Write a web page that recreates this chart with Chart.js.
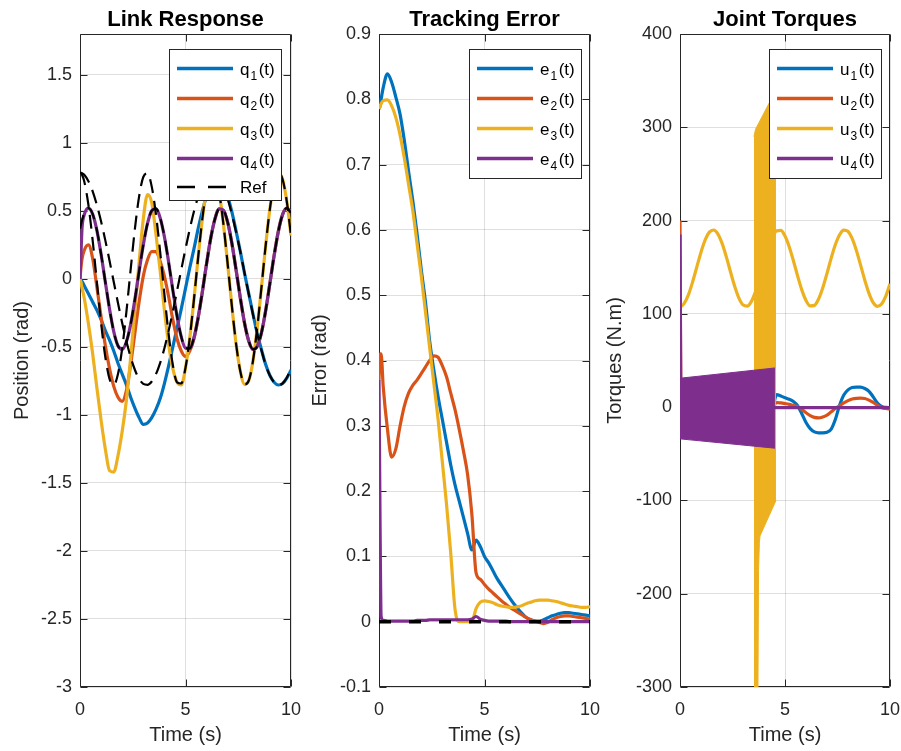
<!DOCTYPE html>
<html>
<head>
<meta charset="utf-8">
<script src="https://cdn.jsdelivr.net/npm/chart.js@4.4.1/dist/chart.umd.min.js"></script>
<style>
  html, body { margin: 0; padding: 0; background: #fff; }
  #wrap { position: relative; width: 901px; height: 751px; overflow: hidden; background: #fff; }
  #wrap canvas { position: absolute; top: 0; }
</style>
</head>
<body>
<div id="wrap">
  <canvas id="link" width="301" height="751" style="left:0px"></canvas>
  <canvas id="err" width="301" height="751" style="left:300px"></canvas>
  <canvas id="torque" width="301" height="751" style="left:600px"></canvas>
</div>
<script>
// ---- sample times (s) ----
const time = [0,0.05,0.1,0.2,0.4,0.6,0.8,1,1.2,1.4,1.6,1.8,2,2.2,2.4,2.6,2.8,3,3.2,3.4,3.6,3.8,4,4.2,4.4,4.6,4.8,5,5.2,5.4,5.6,5.8,6,6.2,6.4,6.6,6.8,7,7.2,7.4,7.6,7.8,8,8.2,8.4,8.6,8.8,9,9.2,9.4,9.6,9.8,10];

// ---- link positions (rad) ----
const q1 = [0,-0.01,-0.02, -0.05,-0.11,-0.17,-0.23,-0.30,-0.38,-0.45,-0.53,-0.62,-0.70, -0.78,-0.87,-0.95,-1.02,-1.07,-1.06,-1.02,-0.96,-0.88,-0.77, -0.64,-0.50,-0.36,-0.22,-0.07,0.08,0.22,0.37,0.50,0.61, 0.70,0.75,0.76,0.71,0.61,0.49,0.35,0.20,0.04,-0.11, -0.26,-0.40,-0.52,-0.63,-0.71,-0.76,-0.78,-0.77,-0.73,-0.67];
const q2 = [0,0.09,0.15, 0.21,0.25,0.15,-0.06,-0.28,-0.49,-0.66,-0.79,-0.87,-0.90, -0.82,-0.63,-0.40,-0.17,0.02,0.14,0.20,0.20,0.13,0.02, -0.13,-0.30,-0.44,-0.53,-0.57,-0.53,-0.44,-0.285,-0.094,0.113, 0.302,0.443,0.514,0.504,0.415,0.260,0.063,-0.142,-0.327,-0.458, -0.518,-0.495,-0.396,-0.233,-0.033,0.171,0.349,0.472,0.520,0.486];
const q3 = [0,-0.03,-0.07, -0.14,-0.33,-0.55,-0.80,-1.04,-1.25,-1.41,-1.42,-1.30,-1.12, -0.89,-0.58,-0.23,0.12,0.44,0.62,0.56,0.33,0.06,-0.23, -0.48,-0.66,-0.76,-0.78,-0.654,-0.437,-0.152,0.158,0.444,0.658, 0.769,0.759,0.629,0.399,0.107,-0.203,-0.481,-0.681,-0.775,-0.747, -0.601,-0.360,-0.062,0.246,0.515,0.704,0.779,0.732,0.570,0.318];
const q4 = [0,0.2,0.38, 0.47,0.52,0.476,0.357,0.181,-0.023,-0.222,-0.388,-0.492,-0.518, -0.462,-0.334,-0.152,0.053,0.250,0.408,0.501,0.516,0.448,0.310, 0.123,-0.083,-0.276,-0.426,-0.509,-0.511,-0.433,-0.285,-0.094,0.113, 0.302,0.443,0.514,0.504,0.415,0.260,0.063,-0.142,-0.327,-0.458, -0.518,-0.495,-0.396,-0.233,-0.033,0.171,0.349,0.472,0.520,0.486];

// ---- reference trajectories (rad) ----
const ref1 = [0.78,0.779,0.776, 0.765,0.718,0.644,0.543,0.421,0.283,0.133,-0.023,-0.177,-0.325, -0.459,-0.575,-0.668,-0.735,-0.772,-0.779,-0.754,-0.700,-0.617,-0.510, -0.382,-0.240,-0.087,0.068,0.221,0.365,0.495,0.605,0.691,0.749, 0.778,0.775,0.742,0.678,0.588,0.474,0.342,0.197,0.042,-0.113, -0.263,-0.405,-0.524,-0.633,-0.711,-0.760,-0.780,-0.768,-0.727,-0.654];
const ref3 = [0.78,0.776,0.764, 0.718,0.543,0.283,-0.023,-0.325,-0.575,-0.735,-0.779,-0.700,-0.510, -0.240,0.068,0.365,0.605,0.749,0.775,0.678,0.474,0.197,-0.113, -0.405,-0.633,-0.760,-0.768,-0.654,-0.437,-0.152,0.158,0.444,0.658, 0.769,0.759,0.629,0.399,0.107,-0.203,-0.481,-0.681,-0.775,-0.747, -0.601,-0.360,-0.062,0.246,0.515,0.704,0.779,0.732,0.570,0.318];
const ref24 = [0.368,0.402,0.433, 0.482,0.520,0.476,0.357,0.181,-0.023,-0.222,-0.388,-0.492,-0.518, -0.462,-0.334,-0.152,0.053,0.250,0.408,0.501,0.516,0.448,0.310, 0.123,-0.083,-0.276,-0.426,-0.509,-0.511,-0.433,-0.285,-0.094,0.113, 0.302,0.443,0.514,0.504,0.415,0.260,0.063,-0.142,-0.327,-0.458, -0.518,-0.495,-0.396,-0.233,-0.033,0.171,0.349,0.472,0.520,0.486];

// ---- tracking errors (rad) ----
const e1 = [0.785,0.79,0.80, 0.818,0.839,0.826,0.803,0.777,0.737,0.69,0.645,0.595,0.54, 0.49,0.43,0.385,0.345,0.31,0.275,0.24,0.21,0.185,0.16, 0.135,0.11,0.125,0.115,0.10,0.09,0.078,0.066,0.056,0.046, 0.036,0.027,0.019,0.012,0.006,0.003,0.001,0.001,0.003,0.006, 0.009,0.011,0.013,0.014,0.014,0.013,0.012,0.011,0.010,0.009];
const e2 = [0.37,0.41,0.41, 0.36,0.295,0.252,0.265,0.30,0.33,0.35,0.362,0.37,0.38, 0.39,0.40,0.407,0.405,0.392,0.375,0.35,0.325,0.295,0.262, 0.225,0.165,0.075,0.065,0.057,0.05,0.044,0.038,0.032,0.027, 0.022,0.018,0.014,0.010,0.006,0.003,0.001,-0.001,-0.003,-0.001, 0.003,0.006,0.008,0.009,0.009,0.008,0.007,0.006,0.005,0.004];
const e3 = [0.785,0.79,0.793, 0.798,0.799,0.79,0.772,0.745,0.71,0.67,0.63,0.58,0.53, 0.475,0.42,0.365,0.31,0.245,0.18,0.105,0.02,0,0, 0,0,0.02,0.03,0.032,0.031,0.029,0.026,0.024,0.023, 0.022,0.022,0.023,0.025,0.028,0.030,0.032,0.033,0.033,0.033, 0.032,0.031,0.029,0.027,0.025,0.024,0.023,0.022,0.022,0.023];
const e4 = [0.37,0.15,0.008, 0.002,0.001,0.001,0.001,0.001,0.001,0.001,0.001,0.002,0.002, 0.002,0.003,0.003,0.003,0.003,0.003,0.003,0.003,0.003,0.003, 0.003,0.004,0.008,0.004,0.002,0.001,0.001,0.001,0.001,0.001, 0,0,0,0,0,0,0,0,0,0, 0,0,0,0,0,0,0,0,0,0];
const errZeroT = [0, 10];
const errZero = [0, 0];

// ---- joint torques (N.m) ----
const u1 = [0,0,0, 0,0,0,0,0,0,0,0,0,0, 0,0,0,0,0,0,0,0,0,0, 0,0,13.5,12,10,8.5,6,1.5,-7,-16.5, -23,-26.5,-27.5,-27.5,-27,-23.5,-13,2,13,18.5, 21,21.5,21.5,20,17,11,4.5,0.8,-0.2,-0.4];
const u2 = [200,0,0, 0,0,0,0,0,0,0,0,0,0, 0,0,0,0,0,0,0,0,0,0, 0,0,5,4.5,3.8,3,1.8,0.5,-2.5,-6, -9,-11,-11.5,-10.5,-8.5,-5,-1.5,1.5,4.5,7, 8.7,9.5,9.6,9.2,7.5,5,2,-0.3,-1.5,-2];
const u3 = [108,108.2,108.8, 111.2,120.4,134.2,150.2,166.1,179.2,187.6,189.9,185.8,175.8, 161.6,145.4,129.8,117.2,109.6,108.3,113.4,124.1,138,155, 170,182,189,189.4,183.4,172,157,140.7,125.7,114.4, 108.6,109.1,116,128,143.4,159.7,174.3,184.8,189.8,188.3, 180.6,167.9,152.2,136,122,112,108,110.5,119,132.3];
const u4 = [185,0,0, 0,0,0,0,0,0,0,0,0,0, 0,0,0,0,0,0,0,0,0,0, 0,0,-0.5,-0.5,-0.5,-0.5,-0.5,-0.5,-0.5,-0.5, -0.5,-0.5,-0.5,-0.5,-0.5,-0.5,-0.5,-0.5,-0.5,-0.5, -0.5,-0.5,-0.5,-0.5,-0.5,-0.5,-0.5,-0.5,-0.5,-0.5];
// chattering envelopes (upper / lower swing of the fast oscillation)
const u3SwingT = [3.52, 3.60, 4.57];
const u3SwingHi = [290, 298, 340];
const u3SwingLoT = [3.52, 3.71, 3.74, 3.78, 3.81, 4.57];
const u3SwingLo = [-310, -310, -175, -145, -138, -100];
const u4SwingT = [0.0, 4.52];
const u4SwingHi = [31, 42];
const u4SwingLo = [-34, -44];

// ---- axis ticks ----
const timeTicks = [0, 5, 10];
const timeTickLabels = ['0', '5', '10'];
const linkTicks = [-3, -2.5, -2, -1.5, -1, -0.5, 0, 0.5, 1, 1.5];
const linkTickLabels = ['-3', '-2.5', '-2', '-1.5', '-1', '-0.5', '0', '0.5', '1', '1.5'];
const errTicks = [-0.1, 0, 0.1, 0.2, 0.3, 0.4, 0.5, 0.6, 0.7, 0.8, 0.9];
const errTickLabels = ['-0.1', '0', '0.1', '0.2', '0.3', '0.4', '0.5', '0.6', '0.7', '0.8', '0.9'];
const torqueTicks = [-300, -200, -100, 0, 100, 200, 300, 400];
const torqueTickLabels = ['-300', '-200', '-100', '0', '100', '200', '300', '400'];

// ---- legend labels ----
const linkLegend = ['q_1(t)', 'q_2(t)', 'q_3(t)', 'q_4(t)', 'Ref'];
const errLegend = ['e_1(t)', 'e_2(t)', 'e_3(t)', 'e_4(t)'];
const torqueLegend = ['u_1(t)', 'u_2(t)', 'u_3(t)', 'u_4(t)'];

// ---------------------------------------------------------------
const FONT = "'Liberation Sans', Arial, Helvetica, sans-serif";
const AXIS_COLOR = '#262626';
const GRID_COLOR = 'rgba(38,38,38,0.15)';
const BLUE = '#0072BD', ORANGE = '#D95319', YELLOW = '#EDB120', PURPLE = '#7E2F8E';
const LW = 3.2;

Chart.defaults.font.family = FONT;

const pts = (xs, ys) => xs.map((x, i) => ({ x: x, y: ys[i] }));

function curve(label, xs, ys, color, extra) {
  return Object.assign({
    label: label, data: pts(xs, ys), borderColor: color, backgroundColor: color,
    borderWidth: LW, pointRadius: 0, cubicInterpolationMode: 'monotone', fill: false
  }, extra || {});
}

function envelope(label, xs, ys, color, fillPrev) {
  return {
    label: label, data: pts(xs, ys), borderColor: color, backgroundColor: color,
    borderWidth: 1, pointRadius: 0, tension: 0, fill: fillPrev ? '-1' : false
  };
}

// Text with a single-character TeX style subscript, e.g. q_1(t)
function drawTexLabel(ctx, s, x, base) {
  const m = s.match(/^([^_]*)_(\w)(.*)$/);
  ctx.fillStyle = '#000';
  ctx.textAlign = 'left';
  ctx.textBaseline = 'alphabetic';
  ctx.font = '17px ' + FONT;
  if (!m) { ctx.fillText(s, x, base); return; }
  ctx.fillText(m[1], x, base);
  x += ctx.measureText(m[1]).width + 1;
  ctx.font = '12px ' + FONT;
  ctx.fillText(m[2], x, base + 5);
  x += ctx.measureText(m[2]).width + 1.5;
  ctx.font = '17px ' + FONT;
  ctx.fillText(m[3], x, base);
}

// Axes box with inward tick marks (drawn beneath the data), title and legend on top
function axesDecor(spec) {
  return {
    id: 'axesDecor',
    beforeDatasetsDraw(chart) {
      const { ctx, chartArea: a, scales } = chart;
      const L = Math.round(a.left) + 0.5, R = Math.round(a.right) - 0.5;
      const T = Math.round(a.top) + 0.5, B = Math.round(a.bottom) - 0.5;
      const tl = 7;
      ctx.save();
      ctx.strokeStyle = AXIS_COLOR;
      ctx.lineWidth = 1;
      ctx.setLineDash([]);
      ctx.beginPath();
      ctx.rect(L, T, R - L, B - T);
      scales.y.ticks.forEach(t => {
        const y = Math.round(scales.y.getPixelForValue(t.value)) + 0.5;
        ctx.moveTo(L, y); ctx.lineTo(L + tl, y);
        ctx.moveTo(R, y); ctx.lineTo(R - tl, y);
      });
      scales.x.ticks.forEach(t => {
        const x = Math.round(scales.x.getPixelForValue(t.value)) + 0.5;
        ctx.moveTo(x, B); ctx.lineTo(x, B - tl);
        ctx.moveTo(x, T); ctx.lineTo(x, T + tl);
      });
      ctx.stroke();
      ctx.restore();
    },
    afterDraw(chart) {
      const { ctx, chartArea: a } = chart;
      ctx.save();
      ctx.fillStyle = '#000';
      ctx.font = 'bold 22px ' + FONT;
      ctx.textAlign = 'center';
      ctx.textBaseline = 'alphabetic';
      ctx.fillText(spec.title, (a.left + a.right) / 2, 26);
      const b = spec.legendBox;
      ctx.fillStyle = '#fff';
      ctx.fillRect(b.x0, b.y0, b.x1 - b.x0, b.y1 - b.y0);
      ctx.strokeStyle = AXIS_COLOR;
      ctx.lineWidth = 1;
      ctx.strokeRect(b.x0, b.y0, b.x1 - b.x0, b.y1 - b.y0);
      spec.legendItems.forEach((it, i) => {
        const y = b.rows[i];
        ctx.strokeStyle = it.color;
        ctx.lineWidth = it.width;
        ctx.setLineDash(it.dash || []);
        ctx.beginPath();
        ctx.moveTo(b.lx0, y); ctx.lineTo(b.lx1, y);
        ctx.stroke();
        ctx.setLineDash([]);
        drawTexLabel(ctx, it.label, b.tx, y + 6);
      });
      ctx.restore();
    }
  };
}

function panel(canvasId, spec) {
  const datasets = spec.datasets.map((d, i) => Object.assign(d, { order: -i }));
  const findLabel = (vals, labs, v) => labs[vals.findIndex(t => Math.abs(t - v) < 1e-9)];
  return new Chart(document.getElementById(canvasId), {
    type: 'line',
    data: { datasets: datasets },
    options: {
      responsive: false, animation: false, events: [], devicePixelRatio: 1,
      layout: { padding: { left: 0, right: spec.padRight, top: 34, bottom: 0 } },
      plugins: { legend: { display: false }, tooltip: { enabled: false }, title: { display: false } },
      scales: {
        x: {
          type: 'linear', min: 0, max: 10,
          afterBuildTicks: s => { s.ticks = timeTicks.map(v => ({ value: v })); },
          afterFit: s => { s.height = 64; s.paddingLeft = 0; s.paddingRight = 0; },
          grid: { color: GRID_COLOR, drawTicks: false, lineWidth: 1 },
          border: { display: false },
          ticks: {
            autoSkip: false, maxRotation: 0, padding: 12, color: AXIS_COLOR,
            font: { family: FONT, size: 18 },
            callback: v => findLabel(timeTicks, timeTickLabels, v)
          },
          title: { display: true, text: 'Time (s)', color: AXIS_COLOR, font: { family: FONT, size: 20 }, padding: { top: 0, bottom: 4 } }
        },
        y: {
          type: 'linear', min: spec.yMin, max: spec.yMax,
          afterBuildTicks: s => { s.ticks = spec.yTicks.map(v => ({ value: v })); },
          afterFit: s => { s.width = spec.yWidth; s.paddingTop = 0; s.paddingBottom = 0; },
          grid: { color: GRID_COLOR, drawTicks: false, lineWidth: 1 },
          border: { display: false },
          ticks: {
            autoSkip: false, padding: 8, color: AXIS_COLOR,
            font: { family: FONT, size: 18 },
            callback: v => findLabel(spec.yTicks, spec.yLabels, v)
          },
          title: { display: true, text: spec.yTitle, color: AXIS_COLOR, font: { family: FONT, size: 20 }, padding: { top: spec.yTitlePad, bottom: 0 } }
        }
      }
    },
    plugins: [axesDecor(spec)]
  });
}

const legendGeom = (rows, bottom) => ({ x0: 169.5, y0: 49.5, x1: 281.5, y1: bottom, rows: rows, lx0: 177, lx1: 233, tx: 240 });
const refDash = [14, 8];

// ---- Link Response ----
panel('link', {
  title: 'Link Response', yTitle: 'Position (rad)', yTitlePad: 10, yWidth: 80, padRight: 10,
  yMin: -3, yMax: 1.8, yTicks: linkTicks, yLabels: linkTickLabels,
  datasets: [
    curve(linkLegend[0], time, q1, BLUE),
    curve(linkLegend[1], time, q2, ORANGE),
    curve(linkLegend[2], time, q3, YELLOW),
    curve(linkLegend[3], time, q4, PURPLE),
    curve(linkLegend[4], time, ref1, '#000', { borderWidth: 2.2, borderDash: refDash }),
    curve(linkLegend[4], time, ref3, '#000', { borderWidth: 2.2, borderDash: refDash }),
    curve(linkLegend[4], time, ref24, '#000', { borderWidth: 2.2, borderDash: refDash })
  ],
  legendBox: legendGeom([68.5, 98.5, 128.5, 158.5, 187], 200.5),
  legendItems: [
    { label: linkLegend[0], color: BLUE, width: 3.3 },
    { label: linkLegend[1], color: ORANGE, width: 3.3 },
    { label: linkLegend[2], color: YELLOW, width: 3.3 },
    { label: linkLegend[3], color: PURPLE, width: 3.3 },
    { label: linkLegend[4], color: '#000', width: 2.3, dash: [18, 13] }
  ]
});

// ---- Tracking Error ----
panel('err', {
  title: 'Tracking Error', yTitle: 'Error (rad)', yTitlePad: 8, yWidth: 79, padRight: 11,
  yMin: -0.1, yMax: 0.9, yTicks: errTicks, yLabels: errTickLabels,
  datasets: [
    curve(errLegend[0], time, e1, BLUE),
    curve(errLegend[1], time, e2, ORANGE),
    curve(errLegend[2], time, e3, YELLOW),
    curve(errLegend[3], time, e4, PURPLE),
    curve('zero', errZeroT, errZero, '#000', { borderWidth: 3.5, borderDash: [12, 18], cubicInterpolationMode: 'default' })
  ],
  legendBox: legendGeom([68.5, 98.5, 128.5, 158.5], 178.5),
  legendItems: [
    { label: errLegend[0], color: BLUE, width: 3.3 },
    { label: errLegend[1], color: ORANGE, width: 3.3 },
    { label: errLegend[2], color: YELLOW, width: 3.3 },
    { label: errLegend[3], color: PURPLE, width: 3.3 }
  ]
});

// ---- Joint Torques ----
panel('torque', {
  title: 'Joint Torques', yTitle: 'Torques (N.m)', yTitlePad: 3, yWidth: 80, padRight: 11,
  yMin: -300, yMax: 400, yTicks: torqueTicks, yLabels: torqueTickLabels,
  datasets: [
    curve(torqueLegend[0], time, u1, BLUE),
    curve(torqueLegend[1], time, u2, ORANGE),
    curve(torqueLegend[2], time, u3, YELLOW),
    envelope('u3 swing high', u3SwingT, u3SwingHi, YELLOW, false),
    envelope('u3 swing low', u3SwingLoT, u3SwingLo, YELLOW, true),
    envelope('u4 swing high', u4SwingT, u4SwingHi, PURPLE, false),
    envelope('u4 swing low', u4SwingT, u4SwingLo, PURPLE, true),
    curve(torqueLegend[3], time, u4, PURPLE)
  ],
  legendBox: legendGeom([68.5, 98.5, 128.5, 158.5], 178.5),
  legendItems: [
    { label: torqueLegend[0], color: BLUE, width: 3.3 },
    { label: torqueLegend[1], color: ORANGE, width: 3.3 },
    { label: torqueLegend[2], color: YELLOW, width: 3.3 },
    { label: torqueLegend[3], color: PURPLE, width: 3.3 }
  ]
});
</script>
</body>
</html>
